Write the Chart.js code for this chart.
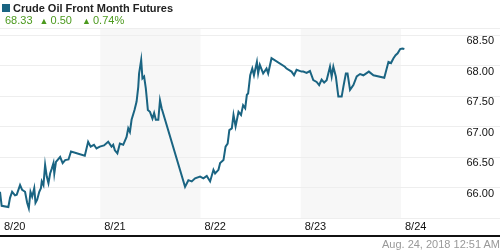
<!DOCTYPE html>
<html>
<head>
<meta charset="utf-8">
<script src="https://cdn.jsdelivr.net/npm/chart.js@4.4.0/dist/chart.umd.min.js"></script>
<style>
    body { margin: 0; background: #fff; font-family: "Liberation Sans", Arial, sans-serif; }
    #wrap { position: relative; width: 500px; height: 250px; overflow: hidden; }
    #chartBox { position: absolute; left: 0; top: 0; width: 500px; height: 250px; }
    #titulo { position: absolute; left: 2px; top: 2px; font-size: 11px; font-weight: bold; color: #222; white-space: nowrap; }
    #titulo .cuadro { display: inline-block; width: 8px; height: 8px; background: #1a6482; margin-right: 3px; }
    #cambio { position: absolute; left: 5px; top: 14px; font-size: 11px; color: #4c9a1e; white-space: nowrap; }
    #cambio .tri { font-size: 9px; margin-left: 4px; margin-right: 2px; }
    #lineaNegra { position: absolute; left: 0; top: 235px; width: 500px; height: 2px; background: #111; }
    #fecha { position: absolute; right: 0; top: 238px; font-size: 11px; color: #999; white-space: nowrap; }
</style>
</head>
<body>
<div id="wrap">
    <div id="chartBox"><canvas id="grafica"></canvas></div>
    <div id="titulo"><span class="cuadro"></span>Crude Oil Front Month Futures</div>
    <div id="cambio">68.33 <span class="tri">&#9650;</span>0.50 &nbsp;<span class="tri">&#9650;</span>0.74%</div>
    <div id="lineaNegra"></div>
    <div id="fecha">Aug. 24, 2018 12:51 AM</div>
</div>
<script>
// Horas desde 8/20 00:00
const horas = [
    0, 0.4, 2.0, 2.4, 2.9, 3.6, 4.0, 4.8, 5.3, 6.0,
    6.5, 6.9, 7.3, 7.7, 8.2, 8.5, 8.9, 9.4, 9.8, 10.0,
    10.4, 10.8, 11.2, 11.6, 12.0, 12.4, 12.8, 13.0, 13.4, 14.4,
    15.0, 15.6, 16.4, 17.0, 20.3, 21.1, 21.7, 22.5, 23.1, 23.9,
    24.9, 25.9, 26.7, 27.1, 27.5, 28.1, 28.7, 29.5, 30.3, 30.7,
    31.1, 31.5, 32.2, 32.7, 33.1, 33.3, 33.8, 34.1, 34.5, 34.9,
    35.1, 35.4, 35.9, 36.5, 36.9, 37.3, 37.9, 38.3, 38.7, 44.3,
    45.1, 45.9, 46.7, 47.9, 48.7, 49.5, 50.3, 51.1, 51.5, 52.3,
    52.7, 53.5, 54.0, 54.5, 54.9, 55.5, 55.9, 56.4, 57.1, 57.7,
    58.2, 58.7, 59.1, 59.4, 59.9, 60.4, 60.8, 61.5, 61.8, 62.2,
    63.0, 63.8, 64.2, 65.0, 68.2, 68.6, 69.8, 70.4, 71.0, 72.2,
    72.6, 73.4, 74.2, 75.0, 75.8, 76.4, 77.0, 77.6, 78.2, 79.0,
    79.4, 79.8, 80.4, 81.0, 81.8, 82.2, 82.8, 83.2, 83.8, 84.6,
    85.4, 86.2, 87.0, 88.3, 89.4, 92.0, 93.0, 93.6, 94.2, 94.7,
    95.2, 95.8, 96.3, 96.8
];

// Precio del petroleo en cada hora
const precios = [
    65.93, 65.70, 65.68, 65.83, 65.93, 65.87, 65.88, 66.04, 65.96, 65.93,
    65.75, 65.66, 65.93, 65.85, 65.99, 65.75, 65.80, 65.93, 65.99, 66.10,
    66.04, 66.37, 66.18, 66.07, 66.23, 66.31, 66.40, 66.23, 66.42, 66.50,
    66.40, 66.45, 66.46, 66.59, 66.52, 66.75, 66.67, 66.70, 66.64, 66.67,
    66.69, 66.75, 66.67, 66.70, 66.61, 66.56, 66.72, 66.70, 66.83, 66.97,
    66.91, 67.11, 67.27, 67.41, 67.65, 67.87, 68.09, 67.79, 67.82, 67.63,
    67.49, 67.27, 67.24, 67.13, 67.22, 67.11, 67.11, 67.43, 67.30, 66.01,
    66.12, 66.10, 66.15, 66.18, 66.15, 66.19, 66.10, 66.29, 66.23, 66.29,
    66.40, 66.45, 66.67, 66.72, 66.94, 66.97, 67.19, 67.00, 67.24, 67.19,
    67.35, 67.30, 67.52, 67.54, 67.84, 67.95, 67.84, 68.06, 67.87, 68.01,
    67.87, 67.95, 67.87, 68.12, 67.98, 67.95, 67.90, 67.84, 67.93, 67.90,
    67.90, 67.88, 67.91, 67.76, 67.73, 67.68, 67.77, 67.72, 67.76, 67.98,
    67.82, 67.98, 67.82, 67.49, 67.49, 67.65, 67.87, 67.87, 67.60, 67.68,
    67.82, 67.86, 67.84, 67.90, 67.84, 67.80, 68.06, 68.04, 68.12, 68.17,
    68.20, 68.27, 68.28, 68.27
];

// Etiquetas del eje X (una por dia)
const diasHoras = [0, 24, 48, 72, 96];
const diasEtiquetas = ['8/20', '8/21', '8/22', '8/23', '8/24'];

// Etiquetas del eje Y
const yEtiquetas = [66.0, 66.5, 67.0, 67.5, 68.0, 68.5];
const yMin = 65.5;
const yMax = 68.615;
const xMax = 119.7;

// Dias sombreados (8/21 y 8/23)
const diasSombreados = [[24, 48], [72, 96]];

const fuente = '11px "Liberation Sans", Arial, sans-serif';

const puntos = horas.map((h, i) => ({ x: h, y: precios[i] }));

// Plugin para fondo sombreado y etiquetas
const decoracion = {
    id: 'decoracion',
    beforeDraw(chart) {
        const ctx = chart.ctx;
        const x = chart.scales.x;
        const area = chart.chartArea;
        ctx.save();
        ctx.fillStyle = '#f7f7f7';
        diasSombreados.forEach((d) => {
            const x1 = x.getPixelForValue(d[0]);
            const x2 = x.getPixelForValue(d[1]);
            ctx.fillRect(x1, area.top, x2 - x1, area.bottom - area.top);
        });
        ctx.restore();
    },
    afterDraw(chart) {
        const ctx = chart.ctx;
        const x = chart.scales.x;
        const y = chart.scales.y;
        const area = chart.chartArea;
        ctx.save();
        ctx.font = fuente;
        ctx.fillStyle = '#111';
        ctx.textBaseline = 'middle';
        // eje Y, debajo de cada linea
        ctx.textAlign = 'right';
        yEtiquetas.forEach((v) => {
            ctx.fillText(v.toFixed(2), 494, y.getPixelForValue(v) + 6);
        });
        // eje X
        ctx.textAlign = 'left';
        diasHoras.forEach((h, i) => {
            ctx.fillText(diasEtiquetas[i], x.getPixelForValue(h) + 4, area.bottom + 9);
        });
        ctx.restore();
    }
};

new Chart(document.getElementById('grafica'), {
    type: 'line',
    data: {
        datasets: [{
            data: puntos,
            borderColor: '#1a6482',
            borderWidth: 2,
            pointRadius: 0,
            tension: 0,
            fill: false
        }]
    },
    options: {
        responsive: true,
        maintainAspectRatio: false,
        animation: false,
        layout: { padding: { left: 0, right: 0, top: 28, bottom: 32 } },
        plugins: {
            legend: { display: false },
            tooltip: { enabled: false }
        },
        scales: {
            x: {
                type: 'linear',
                min: 0,
                max: xMax,
                display: false
            },
            y: {
                min: yMin,
                max: yMax,
                afterBuildTicks: (scale) => {
                    scale.ticks = [yMin].concat(yEtiquetas, [yMax]).map((v) => ({ value: v }));
                },
                ticks: { display: false },
                border: { display: false },
                grid: { color: '#eeeeee', lineWidth: 1, drawTicks: false }
            }
        }
    },
    plugins: [decoracion]
});
</script>
</body>
</html>
